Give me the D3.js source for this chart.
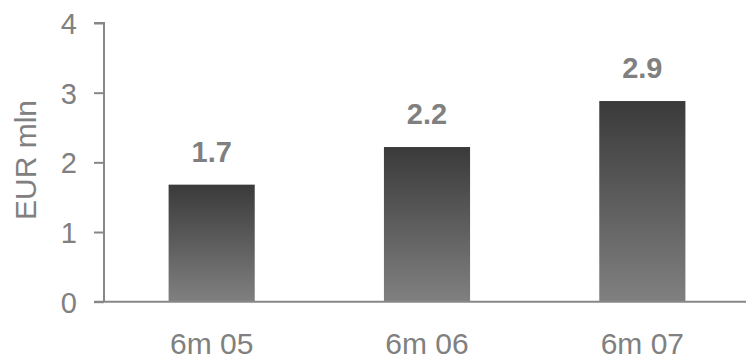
<!DOCTYPE html>
<html><head><meta charset="utf-8">
<script src="https://cdn.jsdelivr.net/npm/d3@7"></script>
<style>html,body{margin:0;padding:0;background:#fff;}svg{display:block;}</style>
</head><body>
<svg id="c" width="746" height="360"></svg>
<script>
const categories = ["6m 05", "6m 06", "6m 07"];
const values = [1.68, 2.22, 2.88];
const valueLabels = ["1.7", "2.2", "2.9"];
const yTicks = [0, 1, 2, 3, 4];
const yTitle = "EUR mln";

(function () {
const svg = d3.select("#c");
const mLeft = 104, mRight = 750, mTop = 23, mBottom = 301.7;
const font = "'Liberation Sans', Arial, sans-serif";
const grey = "#808080";

const x = d3.scaleBand().domain(categories).range([mLeft, mRight]).paddingInner(0.6).paddingOuter(0.3);
const y = d3.scaleLinear().domain([0, 4]).range([mBottom, mTop]);

const defs = svg.append("defs");
const g = defs.append("linearGradient").attr("id", "bg").attr("x1", 0).attr("y1", 0).attr("x2", 0).attr("y2", 1);
g.append("stop").attr("offset", "0%").attr("stop-color", "#3a3a3a");
g.append("stop").attr("offset", "100%").attr("stop-color", "#808080");

svg.selectAll("rect.bar").data(values).enter().append("rect")
  .attr("class", "bar")
  .attr("x", (d, i) => x(categories[i]))
  .attr("width", x.bandwidth())
  .attr("y", d => y(d))
  .attr("height", d => y(0) - y(d))
  .attr("fill", "url(#bg)");

const yAxis = svg.append("g").attr("transform", `translate(${mLeft},0)`)
  .call(d3.axisLeft(y).tickValues(yTicks).tickFormat(d3.format("d")).tickSize(10).tickPadding(17));
yAxis.select(".domain").attr("stroke", "#878787").attr("stroke-width", 2).attr("d", `M-10,${mTop}H0V${mBottom}`);
yAxis.selectAll(".tick line").attr("stroke", "#878787").attr("stroke-width", 2);
yAxis.selectAll(".tick text").attr("fill", grey).style("font-family", font).style("font-size", "29px").attr("dy", "0.36em");

svg.append("line").attr("x1", mLeft - 10).attr("x2", 746).attr("y1", y(0)).attr("y2", y(0))
  .attr("stroke", "#878787").attr("stroke-width", 2);

svg.selectAll("text.cat").data(categories).enter().append("text")
  .attr("class", "cat")
  .attr("x", d => x(d) + x.bandwidth() / 2)
  .attr("y", 353.5)
  .attr("text-anchor", "middle")
  .attr("fill", grey)
  .style("font-family", font).style("font-size", "30px")
  .text(d => d);

svg.selectAll("text.val").data(values).enter().append("text")
  .attr("class", "val")
  .attr("x", (d, i) => x(categories[i]) + x.bandwidth() / 2)
  .attr("y", d => y(d) - 23)
  .attr("text-anchor", "middle")
  .attr("fill", grey)
  .style("font-family", font).style("font-size", "29px").style("font-weight", "bold")
  .text((d, i) => valueLabels[i]);

svg.append("text")
  .attr("transform", "translate(36,160) rotate(-90)")
  .attr("text-anchor", "middle")
  .attr("fill", grey)
  .style("font-family", font).style("font-size", "30px")
  .text(yTitle);
})();
</script>
</body></html>
